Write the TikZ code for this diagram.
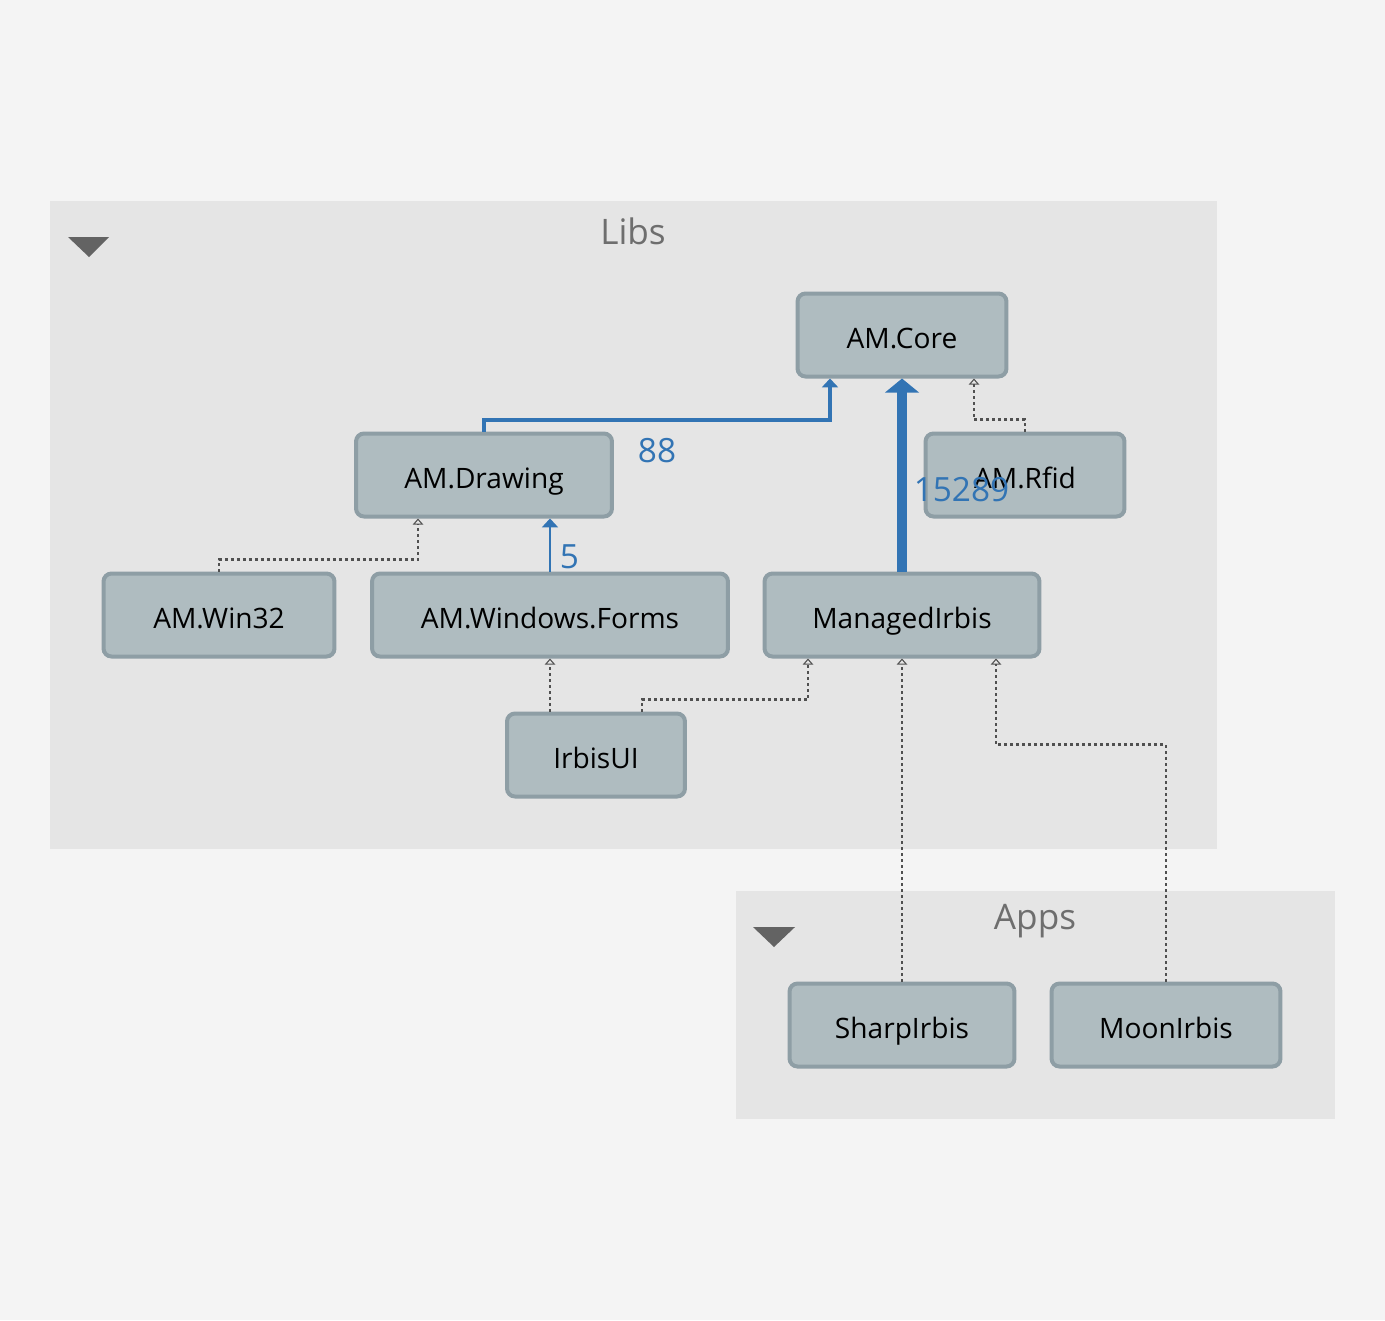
\documentclass[tikz,border=0pt]{standalone}
\usepackage{fontspec}
\setmainfont{Open Sans}
\usepackage{xcolor}
\usepackage{tikz}
\usetikzlibrary{positioning, calc, arrows.meta}

\definecolor{pagebg}{RGB}{244,244,244}
\definecolor{groupbg}{RGB}{229,229,229}
\definecolor{boxfill}{RGB}{175,188,192}
\definecolor{boxline}{RGB}{142,158,165}
\definecolor{depblue}{RGB}{50,116,180}
\definecolor{titlegray}{RGB}{110,110,110}
\definecolor{refgray}{RGB}{80,80,80}

\tikzset{
    proj/.style = {draw = boxline, fill = boxfill, line width = 0.08cm,
        rounded corners = 0.16cm, minimum height = 1.66cm,
        text height = 16pt, text depth = 1.2pt,
        font = \fontsize{16}{19}\selectfont},
    usedep/.style = {draw = depblue, line width = 0.08cm,
        -{Triangle[width = 9pt, length = 5pt]}},
    refdep/.style = {draw = refgray, line width = 0.055cm,
        dash pattern = on 0.06cm off 0.06cm,
        -{Triangle[open, width = 6pt, length = 3.5pt, line width = 0.6pt]}},
    countlbl/.style = {text = depblue, inner sep = 1pt,
        font = \fontsize{19}{22}\selectfont},
    grouptitle/.style = {text = titlegray, font = \fontsize{20}{24}\selectfont}
}

\begin{document}
\begin{tikzpicture}[x = 0.02cm, y = -0.02cm]
        \useasboundingbox [fill = pagebg] (0,0) rectangle (1385,1320);
        \fill [groupbg] (50,201) rectangle (1217,849);
        \fill [groupbg] (736,891) rectangle (1335,1119);
        \fill [titlegray!90!black] (68,237) -- (109,237) -- (89,257) -- cycle;
        \fill [titlegray!90!black] (753,927) -- (795,927) -- (774,947) -- cycle;
        \node (libs) [grouptitle] at (633,231) {Libs};
        \node (apps) [grouptitle] at (1035,921) {Apps};

        \node (core) [proj, minimum width = 4.18cm] at (902,335) {AM.Core};
        \node (drawing) [proj, minimum width = 5.12cm] at (484,475) {AM.Drawing};
        \node (rfid) [proj, minimum width = 3.98cm] at (1025,475) {AM.Rfid};
        \node (win32) [proj, minimum width = 4.62cm] at (219,615) {AM.Win32};
        \node (forms) [proj, minimum width = 7.12cm] at (550,615) {AM.Windows.Forms};
        \node (managed) [proj, minimum width = 5.5cm] at (902,615) {ManagedIrbis};
        \node (irbisui) [proj, minimum width = 3.56cm] at (596,755) {IrbisUI};
        \node (sharp) [proj, minimum width = 4.5cm] at (902,1025) {SharpIrbis};
        \node (moon) [proj, minimum width = 4.58cm] at (1166,1025) {MoonIrbis};

        \draw [usedep] (drawing.north) -- ++ (0,-12) -| ($(core.south) +
        (-72,0)$) node [pos = 0.25, countlbl, yshift = -0.62cm] {88};
        \draw [usedep, line width = 0.2cm, -{Triangle[width = 19pt, length =
        8pt]}] (managed.north) -- (core.south) node [pos = 0.44, right,
        countlbl, xshift = 0.1cm, yshift = -0.06cm] {15289};
        \draw [refdep] (rfid.north) -- ++ (0,-12) -| ($(core.south) +
        (72,0)$);
        \draw [refdep] (win32.north) -- ++ (0,-12) -| ($(drawing.south) +
        (-66,0)$);
        \draw [usedep, line width = 0.04cm, -{Triangle[width = 9pt, length =
        5pt]}] (forms.north) -- (forms.north |- drawing.south) node [pos =
        0.28, right, countlbl, xshift = 0.14cm] {5};
        \draw [refdep] ($(irbisui.north) + (-46,0)$) -- (forms.south);
        \draw [refdep] ($(irbisui.north) + (46,0)$) -- ++ (0,-12) -|
        ($(managed.south) + (-94,0)$);
        \draw [refdep] (sharp.north) -- (managed.south);
        \draw [refdep] (moon.north) -- ++ (0,-237) -| ($(managed.south) +
        (94,0)$);
    \end{tikzpicture}
\end{document}
